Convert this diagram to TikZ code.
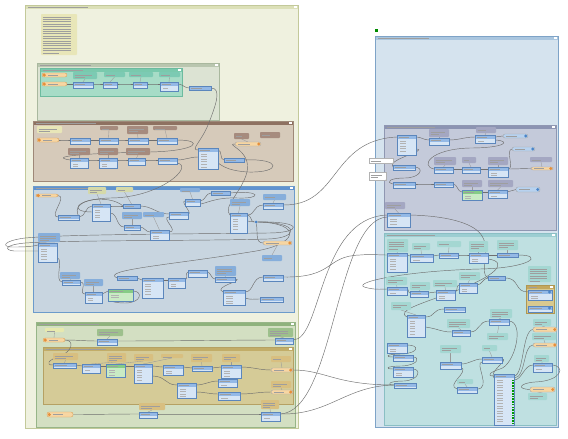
\documentclass[tikz,border=0pt]{standalone}
\pgfdeclarelayer{bg}\pgfdeclarelayer{fg}\pgfsetlayers{bg,main,fg}
\definecolor{bmL}{HTML}{EFF1DF}\definecolor{bmLh}{HTML}{DCE0B8}\definecolor{bmLb}{HTML}{C3C99A}
\definecolor{bmIn}{HTML}{DCE3D3}\definecolor{bmInh}{HTML}{B9C6AF}\definecolor{bmInb}{HTML}{A9B89E}
\definecolor{bmTe}{HTML}{A7DCC7}\definecolor{bmTeh}{HTML}{79C9AD}\definecolor{bmTeb}{HTML}{6DBB9F}
\definecolor{anTe}{HTML}{7CCAB3}
\definecolor{bmBr}{HTML}{D6CABA}\definecolor{bmBrh}{HTML}{8E7161}\definecolor{bmBrb}{HTML}{9E8878}
\definecolor{anBr}{HTML}{A68B7E}
\definecolor{bmBl}{HTML}{C8D5E0}\definecolor{bmBlh}{HTML}{5F93CF}\definecolor{bmBlb}{HTML}{6C9BCB}
\definecolor{anBl}{HTML}{86AEDB}\definecolor{anYg}{HTML}{D5D9A9}
\definecolor{bmGr}{HTML}{D3DFC2}\definecolor{bmGrh}{HTML}{8FB27D}\definecolor{bmGrb}{HTML}{97B588}
\definecolor{anGr}{HTML}{9DC08C}\definecolor{anYe}{HTML}{E7E9AE}
\definecolor{bmTa}{HTML}{D5CB97}\definecolor{bmTah}{HTML}{C2AD68}\definecolor{bmTab}{HTML}{B5A163}
\definecolor{anTa}{HTML}{D8BF80}
\definecolor{bmR}{HTML}{D5E3EE}\definecolor{bmRh}{HTML}{AAC6DF}\definecolor{bmRb}{HTML}{7EA3C7}
\definecolor{bmPu}{HTML}{C4CADA}\definecolor{bmPuh}{HTML}{8C94B2}\definecolor{bmPub}{HTML}{8F97B2}
\definecolor{anPu}{HTML}{A4A7C2}
\definecolor{bmRt}{HTML}{BFE0E1}\definecolor{bmRth}{HTML}{9CCED2}\definecolor{bmRtb}{HTML}{8ABFC4}
\definecolor{anRt}{HTML}{A4D7D2}
\definecolor{bmYs}{HTML}{D8C98F}\definecolor{bmYsh}{HTML}{C3A85E}\definecolor{bmYsb}{HTML}{B09752}
\definecolor{noteY}{HTML}{E8E6B8}
\definecolor{tfH}{HTML}{94B9E6}\definecolor{tfB}{HTML}{D6E5F5}\definecolor{tfBd}{HTML}{5B86BC}
\definecolor{tgH}{HTML}{86CC86}\definecolor{tgB}{HTML}{C9EBC4}
\definecolor{rdF}{HTML}{F7D6A2}\definecolor{rdBd}{HTML}{D99E55}\definecolor{rdI}{HTML}{E58E3A}
\definecolor{wbF}{HTML}{B8D2EF}\definecolor{wbI}{HTML}{4A84C8}
\definecolor{connC}{HTML}{6F6F6F}
\tikzset{
 conn/.style={draw=connC, line width=0.45pt},
 tailln/.style={draw=black!40, line width=0.35pt},
 txt/.style={draw=black!38, line width=0.4pt},
 rowtxt/.style={draw=black!30, line width=0.35pt},
 tfbox/.style={inner sep=0pt, outer sep=0pt, rectangle},
 anbox/.style={inner sep=0pt, outer sep=0pt, rectangle, rounded corners=0.8pt},
 bmbox/.style={inner sep=0pt, outer sep=0pt, rectangle},
 rdbox/.style={inner sep=0pt, outer sep=0pt, rectangle, rounded corners=2pt, fill=rdF, draw=rdBd, line width=0.35pt},
 wrbox/.style={inner sep=0pt, outer sep=0pt, rectangle, rounded corners=2pt, draw=black!35, line width=0.35pt},
 jnode/.style={circle, fill=wbI, inner sep=0pt, minimum size=3pt}
}
\newcommand\xBM[8]{%
 \node[bmbox, fill=#6, anchor=north west, minimum width={(#4-#2)*1pt}, minimum height={(#5-#3)*1pt}] (#1) at (#2,#3) {};
 \fill[#7] (#2,#3) rectangle (#4,#3+3.5);
 \draw[#8, line width=0.5pt] (#2,#3) rectangle (#4,#5);
 \fill[white] (#4-4,#3+0.6) rectangle (#4-1.5,#3+2.9);
 \pgfmathsetmacro\xlen{min(60,(#4-#2)*0.28)}
 \draw[txt, line width=0.5pt] (#2+3,#3+1.75) -- ++(\xlen,0);
}
\newcommand\xAN[6]{%
 \node[anbox, fill=#6, anchor=north west, minimum width={(#4-#2)*1pt}, minimum height={(#5-#3)*1pt}] (#1) at (#2,#3) {};
 \pgfmathtruncatemacro\xn{max(1,(#5-#3-1.5)/2.4)}
 \foreach \k in {1,...,\xn}{%
   \pgfmathsetmacro\xlen{(#4-#2-3)*(\k==\xn ? 0.5 : 0.85)}
   \draw[txt] (#2+1.5,{#3+0.3+\k*2.4}) -- ++(\xlen,0);}
}
\newcommand\tfcore[7]{%
 \node[tfbox, fill=#7, anchor=north west, minimum width={(#4-#2)*1pt}, minimum height={(#5-#3)*1pt}] (#1) at (#2,#3) {};
 \fill[#6] (#2,#3) rectangle (#4,#3+4);
 \draw[tfBd, line width=0.35pt] (#2,#3) rectangle (#4,#5);
 \pgfmathsetmacro\xlen{(#4-#2)*0.5}
 \draw[txt] (#2+2,#3+2) -- ++(\xlen,0);
 \pgfmathtruncatemacro\xn{(#5-#3-4.5)/2.6}
 \ifnum\xn>0\relax
   \pgfmathsetmacro\xlen{(#4-#2)*0.3}
   \foreach \k in {1,...,\xn}{\draw[rowtxt] (#2+3,{#3+3.2+\k*2.6}) -- ++(\xlen,0);}
 \fi
 \coordinate (#1i) at (#2,#3+2);
 \coordinate (#1o) at (#4,#3+2);
}
\newcommand\xTF[5]{\tfcore{#1}{#2}{#3}{#4}{#5}{tfH}{tfB}}
\newcommand\xTG[5]{\tfcore{#1}{#2}{#3}{#4}{#5}{tgH}{tgB}}
\newcommand\xRD[5]{%
 \node[rdbox, anchor=north west, minimum width={(#4-#2)*1pt}, minimum height={(#5-#3)*1pt}] (#1) at (#2,#3) {};
 \fill[rdI] ({#2+2.3},{(#3+#5)/2}) circle (1.7pt);
 \pgfmathsetmacro\xlen{(#4-#2)*0.4}
 \draw[txt] ({#2+6},{(#3+#5)/2}) -- ++(\xlen,0);
 \coordinate (#1o) at (#4,{(#3+#5)/2});
}
\newcommand\xWR[7]{%
 \node[wrbox, fill=#6, anchor=north west, minimum width={(#4-#2)*1pt}, minimum height={(#5-#3)*1pt}] (#1) at (#2,#3) {};
 \fill[#7] ({#4-2.3},{(#3+#5)/2}) circle (1.7pt);
 \pgfmathsetmacro\xlen{(#4-#2)*0.45}
 \draw[txt] ({#2+3},{(#3+#5)/2}) -- ++(\xlen,0);
 \coordinate (#1i) at (#2,{(#3+#5)/2});
 \coordinate (#1o) at (#4,{(#3+#5)/2});
}
\newcommand\xTL[2]{\draw[tailln] (#1.south) -- (#2.north);}
\begin{document}
\begin{tikzpicture}[x=1pt,y=-1pt]
\path[use as bounding box] (0,0) rectangle (568,439);
\begin{pgfonlayer}{bg}
\fill[white] (0,0) rectangle (568,439);
\xBM{BKL}{25}{5}{298}{428}{bmL}{bmLh}{bmLb}
\xBM{BKIn}{37}{63}{219}{120}{bmIn}{bmInh}{bmInb}
\xBM{BKTe}{40}{68}{182}{96}{bmTe}{bmTeh}{bmTeb}
\xBM{BKBr}{33}{121}{293}{181}{bmBr}{bmBrh}{bmBrb}
\xBM{BKBl}{33}{186}{294}{312}{bmBl}{bmBlh}{bmBlb}
\xBM{BKGr}{36}{322}{295}{427}{bmGr}{bmGrh}{bmGrb}
\xBM{BKTa}{43}{347}{293}{404}{bmTa}{bmTah}{bmTab}
\xBM{BKR}{375}{36}{558}{427}{bmR}{bmRh}{bmRb}
\xBM{BKPu}{384}{125}{556}{230}{bmPu}{bmPuh}{bmPub}
\xBM{BKRt}{384}{233}{556}{425}{bmRt}{bmRth}{bmRtb}
\xBM{BKYs}{526}{285}{554}{313}{bmYs}{bmYsh}{bmYsb}
\end{pgfonlayer}
\begin{pgfonlayer}{fg}
\node[fill=green!55!black, minimum size=3pt, inner sep=0pt] (ico) at (376.5,30.5) {};
% left note
\xAN{note1}{41}{14}{77}{55}{noteY}
% teal input
\xRD{r1}{42}{73}{67}{77}
\xRD{r2}{42}{82}{67}{86}
\xAN{qa1}{73}{72}{97}{79}{anTe}
\xAN{qa2}{104}{72}{125}{77}{anTe}
\xAN{qa3}{129}{72}{153}{77}{anTe}
\xAN{qa4}{159}{72}{180}{77}{anTe}
\xTF{q1}{73}{82}{93}{88}
\xTF{q2}{103}{82}{117}{88}
\xTF{q3}{133}{82}{147}{88}
\xTF{q4}{160}{82}{178}{91}
\xTF{q5}{189}{86}{211}{90}
% brown
\xAN{bn}{37}{126}{62}{133}{noteY}
\xRD{br}{37}{138}{59}{142}
\xAN{ba1}{100}{126}{118}{130}{anBr}
\xAN{ba2}{127}{126}{148}{134}{anBr}
\xAN{ba3}{153}{126}{177}{130}{anBr}
\xTF{b1}{70}{138}{90}{144}
\xTF{b2}{99}{138}{118}{144}
\xTF{b3}{128}{138}{148}{144}
\xTF{b4}{157}{138}{177}{144}
\xAN{ba4}{68}{148}{90}{155}{anBr}
\xAN{ba5}{98}{148}{118}{155}{anBr}
\xAN{ba6}{126}{148}{150}{155}{anBr}
\xTF{b5}{70}{158}{88}{168}
\xTF{b6}{99}{158}{117}{168}
\xTF{b7}{128}{158}{145}{165}
\xTF{b8}{158}{158}{177}{164}
\xTF{bt}{198}{148}{218}{169}
\xTF{b9}{224}{158}{244}{162}
\xAN{ba7}{234}{133}{249}{139}{anBr}
\xAN{ba8}{260}{132}{280}{138}{anBr}
\xWR{bw}{235}{142}{261}{146}{rdF}{rdI}
% blue
\xRD{lr}{36}{194}{58}{197}
\xAN{la1}{88}{187}{106}{194}{anYg}
\xAN{la2}{116}{187}{133}{192}{anYg}
\xTF{l1}{58}{215}{79}{220}
\xTF{l2}{92}{204}{110}{221}
\xTF{l3}{123}{204}{140}{208}
\xAN{la3}{122}{212}{142}{219}{anBl}
\xAN{la4}{143}{212}{164}{217}{anBl}
\xTF{l4}{124}{225}{140}{230}
\xTF{l5}{150}{230}{169}{240}
\xTF{l6}{169}{212}{188}{219}
\xAN{la5}{180}{188}{200}{192}{anBl}
\xTF{l7}{185}{199}{200}{206}
\xTF{l8}{211}{191}{230}{195}
\xAN{la6}{230}{199}{250}{206}{anBl}
\xTF{bb}{230}{213}{247}{233}
\xAN{la7}{263}{194}{286}{200}{anBl}
\xTF{l9}{263}{203}{283}{209}
\xWR{lw}{263}{241}{292}{245}{rdF}{rdI}
\xAN{la8}{262}{255}{282}{261}{anBl}
\xAN{la9}{38}{233}{60}{242}{anBl}
\xTF{l10}{38}{243}{57}{262}
\xAN{la10}{60}{272}{80}{279}{anBl}
\xTF{l11}{62}{280}{80}{285}
\xAN{la11}{84}{279}{103}{286}{anBl}
\xTF{l12}{85}{292}{102}{303}
\xTG{l13}{108}{289}{133}{301}
\xTF{l14}{117}{276}{137}{280}
\xTF{l15}{142}{278}{163}{298}
\xTF{l16}{168}{278}{185}{288}
\xTF{l17}{188}{270}{207}{277}
\xAN{la12}{215}{266}{236}{276}{anBl}
\xTF{l18}{215}{277}{235}{282}
\xTF{l19}{223}{290}{245}{305}
\xTF{l20}{263}{275}{283}{281}
\xTF{l21}{260}{297}{283}{302}
\node[jnode] (jn) at (256,222) {};
% green bottom
\xAN{ga1}{45}{328}{64}{332}{anYe}
\xRD{gr}{43}{338}{65}{342}
\xAN{ga2}{97}{329}{123}{336}{anGr}
\xTF{g1}{97}{339}{117}{345}
\xAN{ga3}{268}{328}{293}{337}{anGr}
\xTF{g2}{275}{338}{293}{344}
\xAN{ha1}{53}{353}{78}{360}{anTa}
\xAN{ha2}{107}{353}{126}{362}{anTa}
\xAN{ha3}{134}{354}{153}{361}{anTa}
\xAN{ha4}{161}{354}{183}{358}{anTa}
\xAN{ha5}{191}{354}{212}{362}{anTa}
\xAN{ha6}{222}{354}{240}{362}{anTa}
\xAN{ha8}{271}{356}{291}{362}{anTa}
\xTF{h1}{53}{363}{76}{368}
\xTF{h2}{82}{364}{100}{373}
\xTG{h3}{106}{364}{125}{377}
\xTF{h4}{134}{364}{152}{383}
\xTF{h5}{163}{365}{183}{375}
\xTF{h6}{192}{366}{212}{371}
\xTF{h7}{221}{365}{241}{378}
\xWR{hw1}{271}{368}{293}{372}{rdF}{rdI}
\xTF{h8}{177}{383}{196}{398}
\xTF{h9}{218}{379}{237}{387}
\xTF{h10}{218}{392}{240}{400}
\xAN{ha9}{271}{381}{291}{388}{anTa}
\xWR{hw2}{271}{390}{293}{394}{rdF}{rdI}
\xRD{gr2}{47}{412}{73}{417}
\xAN{ga4}{139}{403}{165}{410}{anTa}
\xTF{g3}{139}{412}{157}{418}
\xAN{ga5}{261}{400}{279}{409}{anTa}
\xTF{g4}{261}{412}{280}{421}
% right purple
\xTF{p1}{397}{135}{416}{155}
\xAN{pa1}{429}{129}{449}{137}{anPu}
\xTF{p2}{429}{138}{449}{145}
\xAN{pa2}{476}{127}{496}{133}{anPu}
\xTF{p3}{475}{135}{495}{143}
\xWR{pw1}{503}{134}{528}{138}{wbF}{wbI}
\xWR{pw2}{512}{147}{535}{151}{wbF}{wbI}
\xAN{pa3}{434}{157}{456}{165}{anPu}
\xAN{pa4}{462}{157}{476}{163}{anPu}
\xAN{pa5}{488}{157}{508}{165}{anPu}
\xAN{pa6}{530}{157}{552}{162}{anPu}
\xTF{p4}{434}{167}{453}{173}
\xTF{p5}{462}{167}{480}{173}
\xTF{p6}{488}{167}{508}{177}
\xWR{pw3}{531}{167}{553}{170}{rdF}{rdI}
\xTF{p7}{393}{165}{415}{170}
\xTF{p8}{393}{182}{415}{188}
\xTF{p9}{434}{182}{453}{187}
\xAN{pa7}{462}{180}{482}{187}{anPu}
\xTG{p10}{462}{190}{482}{200}
\xAN{pa8}{488}{180}{513}{187}{anPu}
\xTF{p11}{488}{190}{507}{198}
\xWR{pw4}{516}{187}{540}{192}{wbF}{wbI}
\xAN{pa9}{385}{202}{405}{209}{anPu}
\xTF{p12}{387}{213}{410}{227}
\xAN{pn1}{369}{158}{393}{163}{white}
\draw[black!30, line width=0.3pt] (pn1.north west) rectangle (pn1.south east);
\xAN{pn2}{369}{172}{386}{180}{white}
\draw[black!30, line width=0.3pt] (pn2.north west) rectangle (pn2.south east);
% right teal
\xAN{ta1}{387}{239}{408}{252}{anRt}
\xTF{t1}{387}{253}{407}{272}
\xAN{ta2}{412}{243}{430}{250}{anRt}
\xTF{t2}{410}{254}{433}{262}
\xAN{ta3}{437}{241}{461}{247}{anRt}
\xTF{t3}{439}{253}{458}{258}
\xAN{ta4}{469}{241}{488}{252}{anRt}
\xTF{t4}{469}{253}{488}{263}
\xAN{ta5}{497}{240}{518}{250}{anRt}
\xTF{t5}{497}{253}{518}{257}
\xAN{ta6}{386}{277}{407}{285}{anRt}
\xTF{t6}{387}{287}{407}{295}
\xAN{ta7}{410}{282}{430}{290}{anRt}
\xTF{t7}{410}{291}{428}{297}
\xAN{ta8}{433}{280}{457}{287}{anRt}
\xTF{t8}{436}{290}{455}{300}
\xAN{ta9}{459}{272}{480}{280}{anRt}
\xTF{t9}{459}{283}{477}{293}
\xTF{t10}{488}{276}{505}{280}
\xAN{ta10}{528}{266}{551}{282}{anRt}
\xTF{t11}{528}{290}{552}{300}
\fill[wbI] (549.5,292) circle (1.6pt);
\xTF{t12}{528}{306}{552}{312}
\fill[wbI] (549.5,308) circle (1.6pt);
\xAN{ta11}{391}{302}{411}{310}{anRt}
\xTF{t13}{407}{315}{425}{337}
\xTF{t14}{444}{307}{465}{312}
\xAN{ta12}{447}{319}{470}{328}{anRt}
\xTF{t15}{452}{330}{470}{336}
\xAN{ta13}{490}{309}{512}{318}{anRt}
\xTF{t16}{489}{319}{509}{325}
\xAN{ta14}{487}{333}{508}{340}{anRt}
\xAN{ta15}{533}{319}{551}{326}{anRt}
\xWR{tw1}{533}{327}{557}{332}{rdF}{rdI}
\xAN{ta16}{532}{333}{556}{340}{anRt}
\xWR{tw2}{533}{343}{557}{347}{rdF}{rdI}
\xTF{t17}{387}{343}{407}{353}
\xAN{ta17}{440}{345}{461}{353}{anRt}
\xTF{t18}{440}{362}{461}{369}
\xAN{ta18}{482}{345}{497}{351}{anRt}
\xTF{t19}{482}{357}{502}{363}
\xTF{t20}{393}{355}{413}{361}
\xTF{t21}{393}{367}{413}{377}
\xAN{ta19}{534}{355}{549}{362}{anRt}
\xTF{t22}{533}{363}{552}{372}
\xTF{t23}{394}{383}{416}{388}
\xAN{ta20}{457}{379}{473}{384}{anRt}
\xTF{t24}{457}{387}{477}{393}
\xTF{t25}{494}{374}{514}{425}
\foreach \k in {0,...,16} {\fill[green!60!black] (512.2,{379.5+\k*2.7}) rectangle ++(1.6,1.6);}
\xWR{tw3}{530}{387}{555}{392}{rdF}{rdI}
\xAN{ta21}{528}{393}{547}{400}{anRt}
\end{pgfonlayer}
% annotation tails
\xTL{qa1}{q1}\xTL{qa2}{q2}\xTL{qa3}{q3}\xTL{qa4}{q4}
\xTL{ba1}{b2}\xTL{ba2}{b3}\xTL{ba3}{b4}\xTL{ba4}{b5}\xTL{ba5}{b6}\xTL{ba6}{b7}\xTL{ba7}{bw}
\xTL{la1}{l2}\xTL{la2}{l3}\xTL{la3}{l4}\xTL{la4}{l5}\xTL{la5}{l7}\xTL{la6}{bb}\xTL{la7}{l9}\xTL{lw}{la8}
\xTL{la10}{l11}\xTL{la11}{l12}\xTL{la12}{l18}
\xTL{ga1}{gr}\xTL{ga2}{g1}\xTL{ga3}{g2}\xTL{ga4}{g3}\xTL{ga5}{g4}
\xTL{ha1}{h1}\xTL{ha2}{h2}\xTL{ha3}{h3}\xTL{ha4}{h4}\xTL{ha5}{h6}\xTL{ha6}{h7}\xTL{ha8}{hw1}\xTL{ha9}{hw2}
\xTL{pa1}{p2}\xTL{pa2}{p3}\xTL{pa3}{p4}\xTL{pa4}{p5}\xTL{pa5}{p6}\xTL{pa6}{pw3}\xTL{pa7}{p10}\xTL{pa8}{p11}\xTL{pa9}{p12}
\xTL{ta1}{t1}\xTL{ta2}{t2}\xTL{ta3}{t3}\xTL{ta4}{t4}\xTL{ta5}{t5}\xTL{ta6}{t6}\xTL{ta7}{t7}\xTL{ta8}{t8}\xTL{ta9}{t9}
\xTL{ta11}{t13}\xTL{ta12}{t15}\xTL{ta13}{t16}\xTL{t16}{ta14}\xTL{ta15}{tw1}\xTL{ta16}{tw2}
\xTL{ta17}{t18}\xTL{ta18}{t19}\xTL{ta19}{t22}\xTL{ta20}{t24}\xTL{tw3}{ta21}
% connectors: left teal
\draw[conn] (r2o) to[out=0,in=180] (q1i);
\draw[conn] (q1o) to[out=0,in=180] (q2i);
\draw[conn] (q2o) to[out=0,in=180] (q3i);
\draw[conn] (q3o) to[out=0,in=180] (q4i);
\draw[conn] (q4o) to[out=0,in=180] (q5i);
\draw[conn] (q5o) .. controls (222,88) and (216,105) .. (208,125) .. controls (201,142) and (190,150) .. (bti);
% brown
\draw[conn] (bro) to[out=0,in=180] (b1i);
\draw[conn] (b1o) to[out=0,in=180] (b2i);
\draw[conn] (b2o) to[out=0,in=180] (b3i);
\draw[conn] (b3o) to[out=0,in=180] (b4i);
\draw[conn] (b4o) .. controls (205,140) and (198,151) .. (150,152) .. controls (95,153) and (45,156) .. (b5i);
\draw[conn] (b5o) to[out=0,in=180] (b6i);
\draw[conn] (b6o) to[out=0,in=180] (b7i);
\draw[conn] (b7o) to[out=0,in=180] (b8i);
\draw[conn] (b8o) to[out=0,in=180] ([yshift=-9pt]bt.north west);
\draw[conn] (bto) to[out=0,in=180] (b9i);
\draw[conn] (b9o) .. controls (282,158) and (282,173) .. (248,172) .. controls (232,171) and (225,168) .. ([yshift=-15pt]bt.north east);
\draw[conn] (bwi) .. controls (224,144) and (252,150) .. (247,172) .. controls (242,192) and (222,207) .. (bbi);
\draw[conn] ([yshift=-5pt]b8.north east) .. controls (195,166) and (160,198) .. (110,198) .. controls (75,199) and (68,212) .. ([yshift=-8pt]l2.north west);
% blue
\draw[conn] (lro) .. controls (68,196) and (48,217) .. (l1i);
\draw[conn] (l1o) to[out=0,in=180] (l2i);
\draw[conn] (l1o) .. controls (68,198) and (110,194) .. (l3i);
\draw[conn] (l2o) to[out=0,in=180] (l3i);
\draw[conn] ([yshift=-9pt]l2.north east) to[out=0,in=180] (l4i);
\draw[conn] (l4o) to[out=0,in=180] (l5i);
\draw[conn] (l3o) to[out=0,in=180] (l6i);
\draw[conn] (l5o) .. controls (180,232) and (160,217) .. ([yshift=-5pt]l6.north west);
\draw[conn] (l6o) to[out=0,in=180] (l7i);
\draw[conn] (l7o) to[out=0,in=180] (l8i);
\draw[conn] (l8o) .. controls (262,190) and (262,199) .. (238,198) .. controls (215,197) and (205,204) .. ([yshift=-5pt]l7.north east);
\draw[conn] (bbo) .. controls (252,215) and (250,222) .. (jn);
\draw[conn] ([yshift=-8pt]bb.north east) to[out=0,in=180] (jn);
\draw[conn] (bbo) .. controls (256,215) and (252,206) .. (l9i);
\draw[conn] (jn) .. controls (258,232) and (255,243) .. (lwi);
\draw[conn] (jn) .. controls (305,221) and (302,233) .. (268,233) .. controls (200,234) and (70,234) .. (25,238) .. controls (2,241) and (2,247) .. (12,247) .. controls (22,247) and (30,247) .. (l10i);
\draw[conn] (jn) .. controls (300,222) and (300,238) .. (268,239) .. controls (200,241) and (70,240) .. (25,243) .. controls (4,245) and (4,250) .. (14,251) .. controls (25,251) and (30,251) .. ([yshift=-8pt]l10.north west);
\draw[conn] (jn) .. controls (303,223) and (300,245) .. (250,252) .. controls (170,265) and (100,270) .. (l14i);
\draw[conn] ([yshift=-15pt]l10.north east) .. controls (64,258) and (54,281) .. (l11i);
\draw[conn] (l11o) .. controls (88,282) and (78,294) .. (l12i);
\draw[conn] (l12o) to[out=0,in=180] (l13i);
\draw[conn] (l13o) .. controls (143,291) and (142,303) .. (125,303) .. controls (112,303) and (108,300) .. ([yshift=-9pt]l13.north west);
\draw[conn] (l14o) to[out=0,in=180] (l15i);
\draw[conn] (l15o) to[out=0,in=180] (l16i);
\draw[conn] (l16o) to[out=0,in=180] (l17i);
\draw[conn] (l17o) to[out=0,in=180] (l18i);
\draw[conn] (l18o) .. controls (246,280) and (212,287) .. (l19i);
\draw[conn] (l19o) .. controls (254,292) and (252,277) .. (l20i);
\draw[conn] ([yshift=-8pt]l19.north east) .. controls (252,300) and (252,299) .. (l21i);
% green bottom
\draw[conn] (gro) to[out=0,in=180] (g1i);
\draw[conn] (gro) .. controls (75,340) and (72,352) .. (60,356) .. controls (48,360) and (45,365) .. (h1i);
\draw[conn] (g1o) .. controls (180,341) and (240,340) .. (g2i);
\draw[conn] (h1o) to[out=0,in=180] (h2i);
\draw[conn] (h2o) to[out=0,in=180] (h3i);
\draw[conn] (h3o) to[out=0,in=180] (h4i);
\draw[conn] (h4o) to[out=0,in=180] (h5i);
\draw[conn] (h5o) to[out=0,in=180] (h6i);
\draw[conn] (h6o) to[out=0,in=180] (h7i);
\draw[conn] (h7o) to[out=0,in=180] (hw1i);
\draw[conn] ([yshift=-12pt]h4.north east) .. controls (166,376) and (165,385) .. (h8i);
\draw[conn] (h8o) to[out=0,in=180] (h9i);
\draw[conn] ([yshift=-9pt]h8.north east) to[out=0,in=180] (h10i);
\draw[conn] (h10o) to[out=0,in=180] (hw2i);
\draw[conn] (gr2o) to[out=0,in=180] (g3i);
\draw[conn] (g3o) to[out=0,in=180] (g4i);
% left to right
\draw[conn] (l9o) .. controls (340,206) and (330,140) .. (p1i);
\draw[conn] (l20o) .. controls (335,278) and (325,256) .. (360,255) .. controls (372,254) and (378,255) .. (t1i);
\draw[conn] (g2o) .. controls (322,340) and (318,218) .. (p12i);
\draw[conn] (g4o) .. controls (335,412) and (335,220) .. ([yshift=-4pt]p12.north west);
\draw[conn] (hw1o) .. controls (325,370) and (335,385) .. (t23i);
\draw[conn] (g4o) .. controls (330,415) and (345,386) .. (t23i);
% right purple
\draw[conn] (p1o) to[out=0,in=180] (p2i);
\draw[conn] (p2o) to[out=0,in=180] (p3i);
\draw[conn] (p3o) to[out=0,in=180] (pw1i);
\draw[conn] ([yshift=-5pt]p3.north east) .. controls (512,141) and (505,148) .. (470,148) .. controls (430,149) and (420,166) .. (p4i);
\draw[conn] ([yshift=-14pt]p1.north east) .. controls (430,150) and (385,160) .. (p7i);
\draw[conn] (p4o) to[out=0,in=180] (p5i);
\draw[conn] (p5o) to[out=0,in=180] (p6i);
\draw[conn] (p6o) to[out=0,in=180] (pw3i);
\draw[conn] (p6o) .. controls (515,169) and (505,150) .. (pw2i);
\draw[conn] (p7o) .. controls (425,168) and (420,178) .. (405,178) .. controls (390,178) and (385,182) .. (p8i);
\draw[conn] (p8o) to[out=0,in=180] (p9i);
\draw[conn] (p9o) to[out=0,in=180] (p10i);
\draw[conn] (p10o) to[out=0,in=180] (p11i);
\draw[conn] (p11o) to[out=0,in=180] (pw4i);
\draw[conn] (p12o) .. controls (450,216) and (475,224) .. (482,236) .. controls (492,252) and (478,272) .. (t10i);
% right teal
\draw[conn] (t1o) to[out=0,in=180] (t2i);
\draw[conn] (t2o) to[out=0,in=180] (t3i);
\draw[conn] (t3o) to[out=0,in=180] (t4i);
\draw[conn] (t4o) to[out=0,in=180] (t5i);
\draw[conn] (t5o) .. controls (545,255) and (530,268) .. (480,269) .. controls (400,271) and (345,284) .. (368,288) .. controls (377,290) and (382,289) .. (t6i);
\draw[conn] (t6o) to[out=0,in=180] (t7i);
\draw[conn] (t7o) to[out=0,in=180] (t8i);
\draw[conn] (t8o) to[out=0,in=180] (t9i);
\draw[conn] (t9o) to[out=0,in=180] (t10i);
\draw[conn] (t10o) .. controls (520,278) and (514,292) .. (t11i);
\draw[conn] ([yshift=-6pt]t4.north east) .. controls (510,262) and (495,277) .. (450,293) .. controls (420,304) and (396,311) .. (t13i);
\draw[conn] (t13o) .. controls (436,317) and (432,309) .. (t14i);
\draw[conn] ([yshift=-12pt]t13.north east) .. controls (440,329) and (440,332) .. (t15i);
\draw[conn] (t15o) .. controls (480,332) and (478,321) .. (t16i);
\draw[conn] (t16o) .. controls (525,322) and (515,365) .. (500,369) .. controls (490,372) and (486,376) .. (t25i);
\draw[conn] (t18o) to[out=0,in=180] (t19i);
\draw[conn] ([yshift=-5pt]t18.north east) .. controls (470,372) and (445,385) .. (t24i);
\draw[conn] (t24o) .. controls (492,389) and (474,362) .. ([yshift=-5pt]t19.north west);
\draw[conn] (t19o) .. controls (510,359) and (488,372) .. ([yshift=-4pt]t25.north west);
\draw[conn] (t25o) .. controls (524,376) and (522,330) .. (tw1i);
\draw[conn] ([yshift=-4pt]t25.north east) .. controls (526,378) and (523,345) .. (tw2i);
\draw[conn] ([yshift=-6pt]t25.north east) .. controls (522,380) and (524,365) .. (t22i);
\draw[conn] (t22o) .. controls (566,366) and (562,381) .. (535,382) .. controls (520,383) and (516,389) .. (tw3i);
\draw[conn] (t17o) .. controls (420,345) and (419,353) .. (402,354) .. controls (386,354) and (384,357) .. (t20i);
\draw[conn] (t20o) .. controls (420,357) and (419,365) .. (402,366) .. controls (386,366) and (384,369) .. (t21i);
\draw[conn] (t21o) .. controls (421,369) and (420,380) .. (404,381) .. controls (388,381) and (386,385) .. (t23i);
\end{tikzpicture}
\end{document}
